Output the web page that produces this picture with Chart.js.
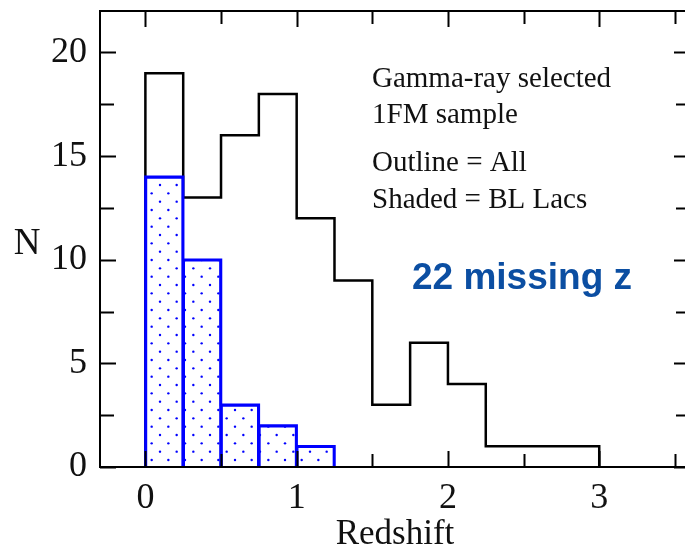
<!DOCTYPE html>
<html>
<head>
<meta charset="utf-8">
<title>Redshift distribution</title>
<script src="https://cdn.jsdelivr.net/npm/chart.js@4.4.0/dist/chart.umd.min.js"></script>
<style>
  html, body { margin: 0; padding: 0; background: #fff; overflow: hidden; }
  #chart { display: block; }
</style>
</head>
<body>
<canvas id="chart" width="692" height="546"></canvas>
<script>
// redshift bins, 0.25 wide
const binEdges = [0, 0.25, 0.5, 0.75, 1.0, 1.25, 1.5, 1.75, 2.0, 2.25, 2.5, 2.75, 3.0];
const allCounts = [19, 13, 16, 18, 12, 9, 3, 6, 4, 1, 1, 1];
const blLacCounts = [14, 10, 3, 2, 1];

const xTickValues = [0, 1, 2, 3];
const yTickValues = [0, 5, 10, 15, 20];

const notes = ['Gamma-ray selected', '1FM sample', 'Outline = All', 'Shaded = BL Lacs'];
const missingNote = '22 missing z';

const ctx = document.querySelector('#chart').getContext('2d');

// outline of a histogram as points for a stepped line
function stepPoints(counts) {
  const pts = [{ x: binEdges[0], y: 0 }];
  counts.forEach((c, i) => pts.push({ x: binEdges[i], y: c }));
  pts.push({ x: binEdges[counts.length], y: 0 });
  return pts;
}

// bar centred in every bin
function binBars(counts) {
  return counts.map((c, i) => ({ x: (binEdges[i] + binEdges[i + 1]) / 2, y: c }));
}

// staggered blue dots for the shaded bars
function dotPattern() {
  const tile = document.createElement('canvas');
  tile.width = 50;
  tile.height = 50;
  const c = tile.getContext('2d');
  const s = 50 / 3;
  c.fillStyle = '#0000ff';
  for (let m = 0; m < 3; m++) {
    for (let n = 0; n < 3; n++) {
      [[1.67, 10], [10, 1.67]].forEach(([dx, dy]) => {
        c.beginPath();
        c.arc(dx + m * s, dy + n * s, 1.2, 0, Math.PI * 2);
        c.fill();
      });
    }
  }
  return ctx.createPattern(tile, 'repeat');
}

// box and inward ticks on all four sides
const frameAndTicks = {
  id: 'frameAndTicks',
  afterDatasetsDraw(chart) {
    const { ctx, chartArea: a, scales: { x, y } } = chart;
    ctx.save();
    ctx.strokeStyle = '#000';
    ctx.lineWidth = 2;
    ctx.beginPath();
    const yTick = (v, len) => {
      const py = Math.round(y.getPixelForValue(v)) + 0.5;
      ctx.moveTo(a.left, py); ctx.lineTo(a.left + len, py);
      ctx.moveTo(a.right, py); ctx.lineTo(a.right - len, py);
    };
    const xTick = (v, len) => {
      const px = Math.round(x.getPixelForValue(v)) + 0.5;
      ctx.moveTo(px, a.bottom); ctx.lineTo(px, a.bottom - len);
      ctx.moveTo(px, a.top); ctx.lineTo(px, a.top + len);
    };
    yTickValues.forEach(v => {
      yTick(v, 16);
      if (v + 2.5 < y.max) yTick(v + 2.5, 14);
    });
    xTickValues.forEach(v => {
      xTick(v, 16);
      if (v + 0.5 < x.max) xTick(v + 0.5, 13);
    });
    ctx.stroke();
    ctx.strokeRect(a.left, a.top, a.right - a.left, a.bottom - a.top);
    ctx.restore();
  }
};

// axis titles and notes
const labels = {
  id: 'labels',
  afterDraw(chart) {
    const { ctx, chartArea: a } = chart;
    ctx.save();
    ctx.fillStyle = '#111';
    ctx.textBaseline = 'alphabetic';

    ctx.font = '37px "Liberation Serif"';
    ctx.textAlign = 'center';
    ctx.fillText('N', 27, 254);
    ctx.font = '35px "Liberation Serif"';
    ctx.fillText('Redshift', (a.left + a.right) / 2, 544);

    ctx.textAlign = 'left';
    ctx.font = '29px "Liberation Serif"';
    const noteY = [87, 123, 171, 208];
    notes.forEach((t, i) => ctx.fillText(t, 372, noteY[i]));

    ctx.fillStyle = '#0b4ea2';
    ctx.font = 'bold 37px "Liberation Sans"';
    ctx.fillText(missingNote, 412, 289);
    ctx.restore();
  }
};

// keep the plot box fixed: no extra room for overhanging tick labels
function fixPadding(scale) {
  scale.paddingTop = 0;
  scale.paddingBottom = 0;
  scale.paddingLeft = 0;
  scale.paddingRight = 0;
}

new Chart(ctx, {
  type: 'bar',
  data: {
    datasets: [
      {
        type: 'line',
        label: 'All',
        data: stepPoints(allCounts),
        stepped: 'before',
        borderColor: '#000',
        borderWidth: 2.5,
        pointRadius: 0,
        fill: false,
        order: 3,
      },
      {
        type: 'bar',
        label: 'BL Lacs',
        data: binBars(blLacCounts),
        backgroundColor: dotPattern(),
        borderColor: '#0000ff',
        borderWidth: 1.5,
        barPercentage: 1,
        categoryPercentage: 1,
        order: 2,
      },
      {
        type: 'line',
        label: 'BL Lacs outline',
        data: stepPoints(blLacCounts),
        stepped: 'before',
        borderColor: '#0000ff',
        borderWidth: 2.5,
        pointRadius: 0,
        fill: false,
        order: 1,
      },
    ],
  },
  options: {
    responsive: false,
    animation: false,
    layout: { padding: { left: 0, right: 2, top: 11, bottom: 0 } },
    plugins: {
      legend: { display: false },
      tooltip: { enabled: false },
    },
    scales: {
      x: {
        type: 'linear',
        min: -0.3,
        max: 3.6,
        offset: false,
        grid: { display: false, drawTicks: false },
        border: { display: false },
        afterBuildTicks: scale => { scale.ticks = xTickValues.map(v => ({ value: v })); },
        afterFit: scale => { scale.height = 79; fixPadding(scale); },
        ticks: {
          padding: 10,
          color: '#111',
          font: { family: 'Liberation Serif', size: 36 },
          maxRotation: 0,
        },
      },
      y: {
        min: 0,
        max: 22,
        grid: { display: false, drawTicks: false },
        border: { display: false },
        afterBuildTicks: scale => { scale.ticks = yTickValues.map(v => ({ value: v })); },
        afterFit: scale => { scale.width = 100; fixPadding(scale); },
        ticks: {
          padding: 13,
          color: '#111',
          font: { family: 'Liberation Serif', size: 36 },
        },
      },
    },
  },
  plugins: [frameAndTicks, labels],
});
</script>
</body>
</html>
